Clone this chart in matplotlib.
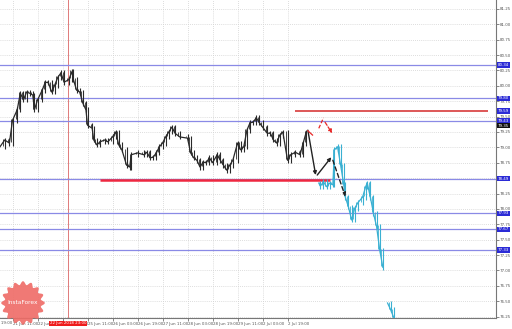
import numpy as np
import matplotlib
matplotlib.use("Agg")
import matplotlib.pyplot as plt
from matplotlib.patches import Polygon

# ---------------- data ----------------
hist_bar = [0, 3, 6, 8, 11, 13, 15, 17, 19, 21, 22, 24, 27, 29, 31, 33, 35, 37, 39, 41,
            44, 46, 47, 49, 51, 53, 55, 56, 59, 60, 62, 64, 67, 69, 72, 74, 76, 78, 81, 83,
            84, 88, 92, 94, 96, 98, 100, 102, 104, 106, 108, 110, 112, 115, 120, 122, 124,
            126, 128, 130, 132, 134, 136, 139, 141, 143, 145, 147, 149, 152, 154, 156, 158,
            160, 162, 164, 166, 168, 171, 173, 175, 177, 179, 181, 184, 186, 189, 192, 194, 196]
hist_close = [79.01, 79.12, 79.07, 79.44, 79.61, 79.88, 79.77, 79.90, 79.88, 79.85, 79.61, 79.77,
              79.93, 80.06, 80.05, 79.90, 80.01, 80.14, 80.21, 80.06, 80.10, 80.23, 80.10, 79.93,
              79.90, 79.72, 79.61, 79.36, 79.31, 79.12, 79.04, 79.09, 79.12, 79.09, 79.17, 79.25,
              79.04, 78.96, 78.71, 78.68, 78.88, 78.91, 78.88, 78.92, 78.83, 78.84, 78.91, 79.01,
              79.07, 79.17, 79.25, 79.33, 79.23, 79.17, 79.15, 78.91, 78.83, 78.79, 78.68, 78.76,
              78.75, 78.83, 78.75, 78.88, 78.79, 78.71, 78.63, 78.71, 78.79, 79.07, 78.96, 79.01,
              79.28, 79.40, 79.41, 79.48, 79.40, 79.33, 79.23, 79.23, 79.12, 79.07, 79.20, 79.25,
              78.79, 78.88, 78.92, 78.88, 79.07, 79.25]

fut_bar = [204, 205, 207, 209, 211, 213, 214, 216, 218, 220, 221, 223, 225, 227, 229, 232,
           234, 235, 237, 239, 241, 243, 245, 245.5, 246, 246.5, 248, 250, 252]
fut_close = [78.42, 78.37, 78.44, 78.36, 78.42, 78.39, 78.96, 79.01, 78.71, 78.39, 78.19, 78.03,
             77.82, 78.01, 78.10, 78.19, 78.36, 78.42, 78.19, 77.93, 77.71, 77.33, 77.05, np.nan,
             76.81, np.nan, 76.47, 76.36, 76.23]

blue_levels = [80.34, 79.80, 79.43, 78.49, 77.93, 77.67, 77.33]
resistance_level = 79.59
resistance_span = (189, 312)
support_level = 78.47
support_span = (64, 211)
current_price = 79.35

black_arrows = [((197, 79.28), (202, 78.55)), ((203, 78.55), (212, 78.84))]
black_dashed_arrow = ((213, 78.79), (221, 78.20))
red_segment = ((197, 79.27), (200, 79.20))
red_up = ((204, 79.31), (207, 79.48))
red_down_arrow = ((208, 79.41), (212.5, 79.23))

y_ticks = [76.25 + 0.25 * i for i in range(21)]
x_tick_bars = [8, 24, 40, 56, 72, 88, 104, 120, 136, 152, 168, 184]
x_tick_labels = ["21 Jun 11:00", "22 Jun 03:00", "22 Jun 19:00", "25 Jun 11:00",
                 "26 Jun 03:00", "26 Jun 19:00", "27 Jun 11:00", "28 Jun 03:00", "28 Jun 19:00",
                 "29 Jun 11:00", "2 Jul 03:00", "2 Jul 19:00"]
first_label_bar = -8
first_label = "20 Jun 19:00"
crosshair_bar = 43.5
crosshair_label = "22 Jun 2018 23:00"

# ---------------- figure ----------------
W, H = 512, 329
fig = plt.figure(figsize=(W / 100, H / 100), dpi=100)
ax = fig.add_axes([0, 11 / H, 496 / W, 318 / H])

fs = 2.9
tick_col = "#555555"

ax.set_yticks(y_ticks)
ax.set_yticklabels([f"{v:.2f}" for v in y_ticks])
ax.yaxis.tick_right()
ax.set_xticks(x_tick_bars)
ax.set_xticklabels(x_tick_labels, ha="left")
ax.set_xlim(0, 317.4)
ax.set_ylim(76.226, 81.396)
ax.tick_params(axis="both", labelsize=fs, colors=tick_col, length=2, width=0.5, pad=0.8)
ax.grid(True, color="#d2d2d2", linestyle=(0, (1, 1.5)), linewidth=0.6)
for s in ["top", "left"]:
    ax.spines[s].set_visible(False)
for s in ["right", "bottom"]:
    ax.spines[s].set_color("#777777")
    ax.spines[s].set_linewidth(0.8)

xtrans = ax.get_xaxis_transform()
# partially visible first date label at the left edge
ax.text(first_label_bar, -0.011, first_label, transform=xtrans, fontsize=fs, color=tick_col,
        va="top", ha="left", clip_on=False)

# crosshair
ax.axvline(crosshair_bar, color="#e07a7a", lw=0.7, zorder=2)

# horizontal levels
for lv in blue_levels:
    ax.axhline(lv, color="#8a8ae6", lw=0.9, zorder=2)
ax.hlines(resistance_level, *resistance_span, color="#d42a2a", lw=1.1, zorder=3)
ax.hlines(support_level, *support_span, color="#ee2840", lw=1.8, zorder=3)

# price series (candle-like look)
def draw_series(bars, vals, col):
    b = np.array(bars, dtype=float)
    v = np.array(vals, dtype=float)
    ax.plot(b, v, color=col, lw=0.9, zorder=4)
    for i in range(1, len(b)):
        if np.isnan(v[i]) or np.isnan(v[i - 1]):
            continue
        lo, hi = sorted((v[i - 1], v[i]))
        ax.vlines(b[i], lo - 0.04, hi + 0.04, color=col, lw=0.8, zorder=4)
        ax.vlines(b[i] - 0.9, min(lo + 0.02, hi), hi + 0.02, color=col, lw=0.6, zorder=4)

draw_series(hist_bar, hist_close, "#2a2a2a")
draw_series(fut_bar, fut_close, "#3ab0d2")

# arrows
for (p0, p1) in black_arrows:
    ax.annotate("", xy=p1, xytext=p0,
                arrowprops=dict(arrowstyle="-|>", color="#222222", lw=1.0,
                                mutation_scale=5, shrinkA=0, shrinkB=0), zorder=6)
ax.annotate("", xy=black_dashed_arrow[1], xytext=black_dashed_arrow[0],
            arrowprops=dict(arrowstyle="-|>", color="#222222", lw=1.0, linestyle=(0, (3, 2)),
                            mutation_scale=5, shrinkA=0, shrinkB=0), zorder=6)
ax.plot([red_segment[0][0], red_segment[1][0]], [red_segment[0][1], red_segment[1][1]],
        color="#e82828", lw=0.9, zorder=6)
ax.plot([red_up[0][0], red_up[1][0]], [red_up[0][1], red_up[1][1]],
        color="#e82828", lw=0.9, ls=(0, (3, 1.5)), zorder=6)
ax.annotate("", xy=red_down_arrow[1], xytext=red_down_arrow[0],
            arrowprops=dict(arrowstyle="-|>", color="#e82828", lw=0.9, linestyle=(0, (3, 1.5)),
                            mutation_scale=5, shrinkA=0, shrinkB=0), zorder=6)

# price boxes on the right axis
ytrans = ax.get_yaxis_transform()
for lv in blue_levels + [resistance_level]:
    ax.text(1.004, lv, f"{lv:.2f}", transform=ytrans, fontsize=fs, color="white",
            va="center", ha="left", clip_on=False, zorder=10,
            bbox=dict(boxstyle="square,pad=0.15", fc="#2b2bd6", ec="none"))
ax.text(1.004, current_price, f"{current_price:.2f}", transform=ytrans, fontsize=fs,
        color="white", va="center", ha="left", clip_on=False, zorder=10,
        bbox=dict(boxstyle="square,pad=0.15", fc="#111111", ec="none"))

# crosshair date box
ax.text(crosshair_bar, -0.011, crosshair_label, transform=xtrans, fontsize=fs, color="white",
        va="top", ha="center", clip_on=False, zorder=10,
        bbox=dict(boxstyle="square,pad=0.2", fc="#ee1c1c", ec="none"))

# InstaForex seal
cx, cy, r = 23 / W, (H - 303) / H, 20
t = np.linspace(0, 2 * np.pi, 400)
rr = r + 1.8 * np.cos(16 * t)
px = cx + rr * np.cos(t) / W
py = cy + rr * np.sin(t) / H
fig.patches.append(Polygon(np.column_stack([px, py]), closed=True, transform=fig.transFigure,
                           fc="#ef6b66", ec="none", alpha=0.9, zorder=20))
fig.text(cx, cy + 1 / H, "InstaForex", color="white", fontsize=4.2, ha="center", va="center",
         zorder=21)

fig.savefig("out.png", dpi=100, facecolor="white")
